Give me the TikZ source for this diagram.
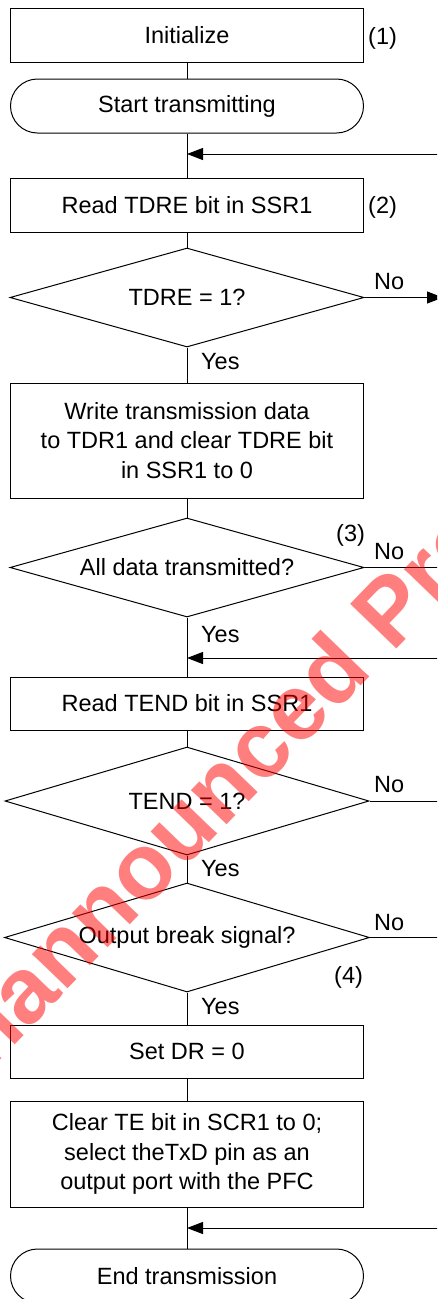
\documentclass[tikz,border=0pt]{standalone}
\usepackage{fontspec}
\setmainfont{Liberation Sans}
\usetikzlibrary{shapes.geometric,arrows.meta}
\begin{document}
\begin{tikzpicture}[x=1pt,y=-1pt,
  every node/.style={font=\fontsize{23.5}{29.5}\selectfont},
  box/.style={draw, line width=1pt, rectangle, minimum width=353pt, inner sep=0pt, align=center},
  term/.style={draw, line width=1pt, rectangle, rounded corners=27pt, minimum width=353pt, minimum height=54pt, inner sep=0pt},
  dec/.style={draw, line width=1pt, diamond, aspect=3.6, inner sep=0pt},
  lbl/.style={anchor=west, inner sep=0pt},
  conn/.style={line width=1pt},
  arr/.style={line width=1pt, -{Triangle[length=16pt,width=12pt]}},
  wmark/.style={rotate=46, anchor=base west, text=red, opacity=0.5, inner sep=0pt, font=\bfseries\fontsize{93.5}{93.5}\selectfont}
]
\useasboundingbox (0,0) rectangle (437,1299);
\clip (0,0) rectangle (437,1299);

\node[box, minimum height=54pt] (init) at (187,35) {Initialize};
\node[term] (start) at (187,106) {Start transmitting};
\node[box, minimum height=54pt] (rtdre) at (187,205) {Read TDRE bit in SSR1};
\node[dec, minimum width=354pt, minimum height=99pt] (d1) at (187,297.5) {TDRE = 1?};
\node[box, minimum height=115pt] (write) at (187,440.5) {Write transmission data\\to TDR1 and clear TDRE bit\\in SSR1 to 0};
\node[dec, minimum width=354pt, minimum height=99pt] (d2) at (187,567.5) {All data transmitted?};
\node[box, minimum height=53pt] (rtend) at (187,703.5) {Read TEND bit in SSR1};
\node[dec, minimum width=364pt, minimum height=108pt] (d3) at (187,801) {TEND = 1?};
\node[dec, minimum width=365pt, minimum height=109pt] (d4) at (187,937.5) {Output break signal?};
\node[box, minimum height=53pt] (setdr) at (187,1051.5) {Set DR = 0};
\node[box, minimum height=106pt] (clear) at (187,1154) {Clear TE bit in SCR1 to 0;\\select theTxD pin as an\\output port with the PFC};
\node[term] (end) at (187,1276) {End transmission};

\node[lbl] (l1) at (368,38) {(1)};
\node[lbl] (l2) at (368,207) {(2)};
\node[lbl] (no1) at (374,282) {No};
\node[lbl] (yes1) at (201,362) {Yes};
\node[lbl] (l3) at (336,535) {(3)};
\node[lbl] (no2) at (374,552) {No};
\node[lbl] (yes2) at (201,635) {Yes};
\node[lbl] (no3) at (374,785) {No};
\node[lbl] (yes3) at (201,869) {Yes};
\node[lbl] (no4) at (374,923) {No};
\node[lbl] (l4) at (334,977) {(4)};
\node[lbl] (yes4) at (201,1007) {Yes};

\coordinate (j1) at (187,154);
\coordinate (r1) at (440,154);
\coordinate (j2) at (187,658);
\coordinate (r2) at (440,658);
\coordinate (j3) at (187,1228);
\coordinate (r3) at (440,1228);
\coordinate (o1) at (443,297.5);
\coordinate (o2) at (440,567.5);
\coordinate (o3) at (440,801);
\coordinate (o4) at (440,937.5);

\draw[conn] (init.south) -- (start.north);
\draw[conn] (start.south) -- (rtdre.north);
\draw[conn] (rtdre.south) -- (d1.north);
\draw[conn] (d1.south) -- (write.north);
\draw[conn] (write.south) -- (d2.north);
\draw[conn] (d2.south) -- (rtend.north);
\draw[conn] (rtend.south) -- (d3.north);
\draw[conn] (d3.south) -- (d4.north);
\draw[conn] (d4.south) -- (setdr.north);
\draw[conn] (setdr.south) -- (clear.north);
\draw[conn] (clear.south) -- (end.north);

\draw[arr] (r1) -- (j1);
\draw[arr] (r2) -- (j2);
\draw[arr] (r3) -- (j3);
\draw[arr] (d1.east) -- (o1);
\draw[conn] (d2.east) -- (o2);
\draw[conn] (d3.east) -- (o3);
\draw[conn] (d4.east) -- (o4);

\node[wmark] (wm) at (-59,1121) {Unannounced Product};
\end{tikzpicture}
\end{document}
